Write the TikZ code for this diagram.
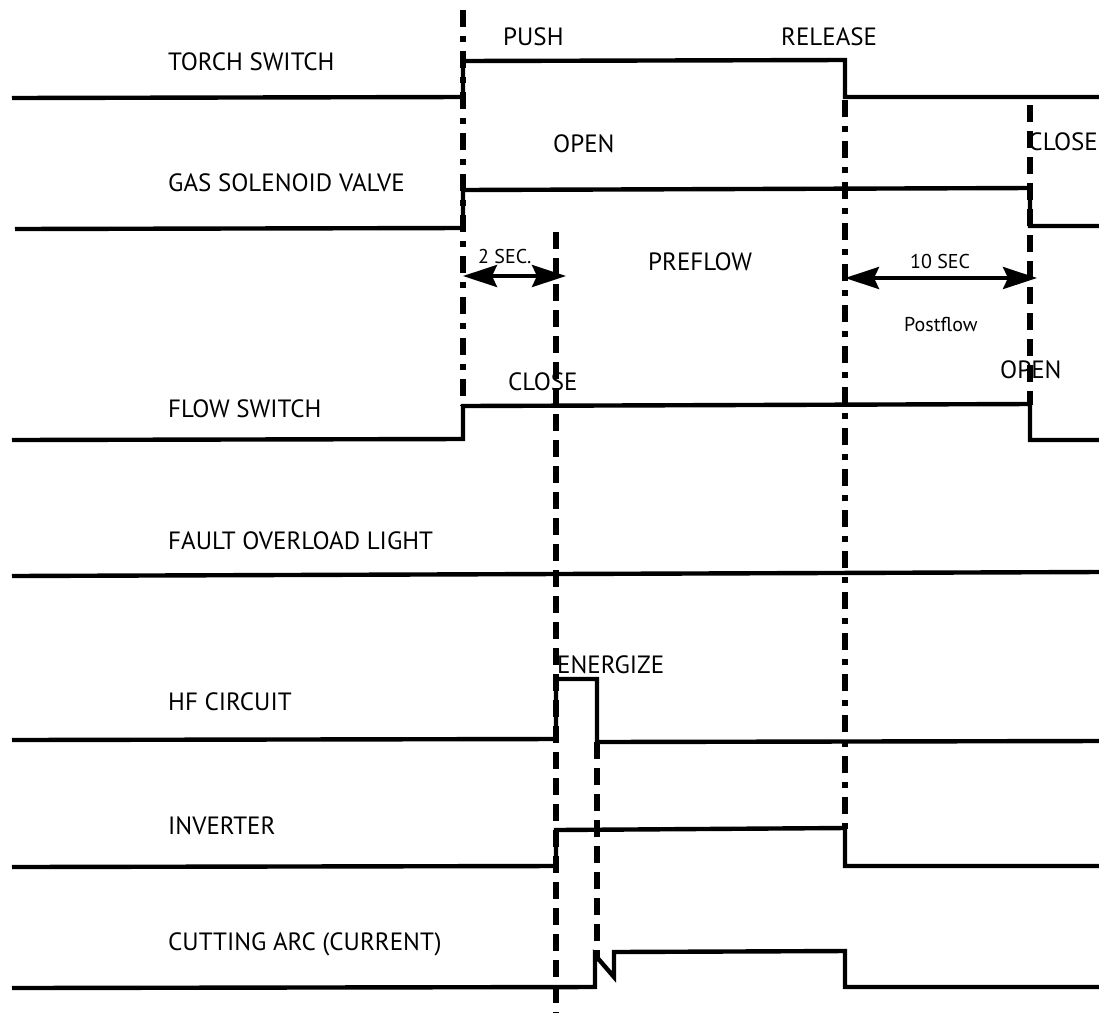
\documentclass[tikz,border=0pt]{standalone}
\usepackage{fontspec}
\setmainfont{PT Sans}
\usetikzlibrary{arrows.meta}
\begin{document}
\begin{tikzpicture}[x=1pt,y=-1pt,
  sig/.style={line width=4.4pt,line join=miter,line cap=butt},
  dsh/.style={line width=5.2pt,dash pattern=on 17pt off 9pt},
  dshdot/.style={line width=5.2pt,dash pattern=on 17pt off 9pt on 6pt off 9pt},
  lbl/.style={anchor=west,inner sep=0pt,font=\fontsize{25}{28}\selectfont},
  sml/.style={anchor=west,inner sep=0pt,font=\fontsize{20}{22}\selectfont},
  tip/.style={Stealth[length=34pt,width=22pt,inset=5pt]},
  dim/.style={line width=3.8pt,{Stealth[length=34pt,width=22pt,inset=5pt]}-{Stealth[length=34pt,width=22pt,inset=5pt]}}]
\useasboundingbox (0,0) rectangle (1099,1013);
% dashed verticals
\draw[dshdot] (463,10) -- (463,406);
\draw[dsh] (556,232) -- (556,1013);
\draw[dsh] (597,742) -- (597,960);
\draw[dshdot] (845,100) -- (845,830);
\draw[dsh] (1030,105) -- (1030,405);
% signals
\draw[sig] (12,98) -- (463,97) -- (463,61) -- (845,60) -- (845,97) -- (1099,97);
\draw[sig] (15,229) -- (463,228) -- (463,190) -- (1030,188) -- (1030,226) -- (1099,226);
\draw[sig] (12,440) -- (463,439) -- (463,406) -- (1030,404) -- (1030,440) -- (1099,440);
\draw[sig] (12,576) -- (1099,572);
\draw[sig] (12,740) -- (556,739) -- (556,679) -- (597,679) -- (597,742) -- (1099,741);
\draw[sig] (12,867) -- (556,866) -- (556,830) -- (845,828) -- (845,866) -- (1099,866);
\draw[sig] (12,988) -- (595,987) -- (595,955) -- (614,977) -- (614,952) -- (845,951) -- (845,987) -- (1099,987);
% dimension arrows
\draw[dim] (463,276) -- (566,276);
\draw[dim] (845,278) -- (1037,278);
% labels
\node[lbl] (l1) at (168,62) {TORCH SWITCH};
\node[lbl] (l2) at (168,183) {GAS SOLENOID VALVE};
\node[lbl] (l3) at (168,409) {FLOW SWITCH};
\node[lbl] (l4) at (168,541) {FAULT OVERLOAD LIGHT};
\node[lbl] (l5) at (168,702) {HF CIRCUIT};
\node[lbl] (l6) at (168,826) {INVERTER};
\node[lbl] (l7) at (168,944) {CUTTING ARC (CURRENT)};
\node[lbl] (push) at (503,37) {PUSH};
\node[lbl] (rel) at (781,37) {RELEASE};
\node[lbl] (open1) at (553,144) {OPEN};
\node[lbl,anchor=east] (close1) at (1098,142) {CLOSE};
\node[lbl] (pre) at (648,262) {PREFLOW};
\node[lbl] (close2) at (508,382) {CLOSE};
\node[lbl] (open2) at (1000,370) {OPEN};
\node[lbl] (en) at (557,665) {ENERGIZE};
\node[sml] (s2) at (478,256) {2 SEC.};
\node[sml] (s10) at (910,261) {10 SEC};
\node[sml] (post) at (904,324) {Postflow};
\end{tikzpicture}
\end{document}
